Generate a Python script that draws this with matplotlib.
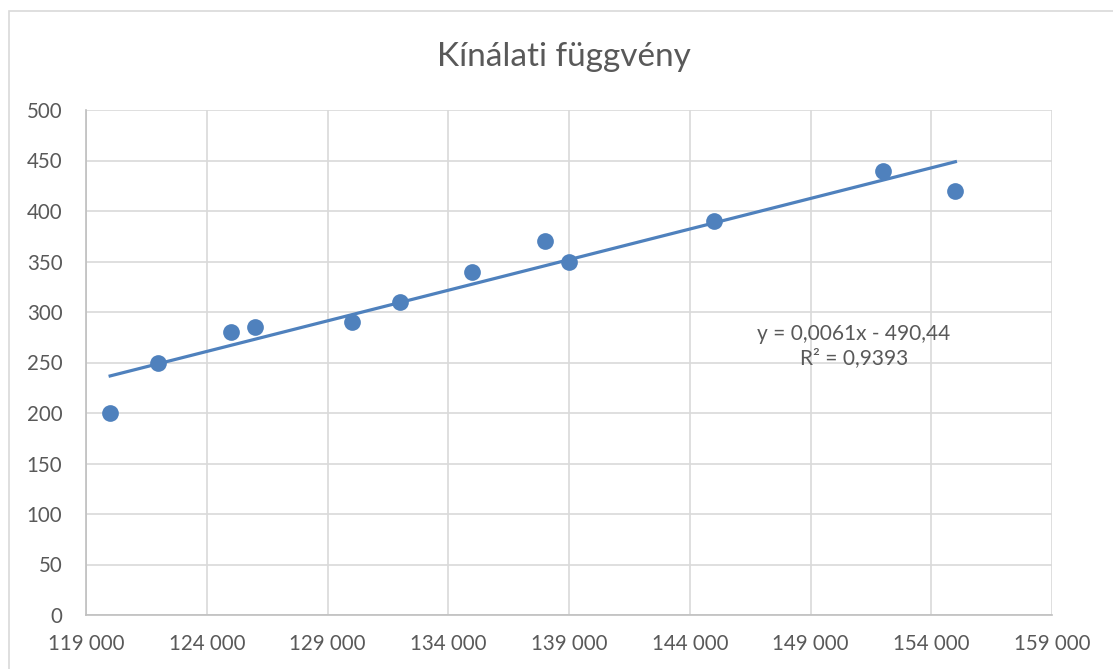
import numpy as np
import matplotlib
matplotlib.use("Agg")
import matplotlib.pyplot as plt
from matplotlib.patches import Rectangle
from matplotlib.ticker import FuncFormatter

plt.rcParams['font.family'] = ['Lato', 'DejaVu Sans']

# data
income = [120000, 122000, 125000, 126000, 130000, 132000,
          135000, 138000, 139000, 145000, 152000, 155000]
supply = [200, 250, 280, 285, 290, 310, 340, 370, 350, 390, 440, 420]

title = "Kínálati függvény"
eq_text = "y = 0,0061x - 490,44\nR² = 0,9393"

blue = '#4f81bd'
text_col = '#595959'
grid_col = '#d9d9d9'

fig = plt.figure(figsize=(11.13, 6.69), dpi=100)
fig.patches.append(Rectangle((9 / 1113, -0.05), 1.1, (669 - 11) / 669 + 0.05,
                             transform=fig.transFigure, fill=False,
                             edgecolor='#d9d9d9', linewidth=1.2))

ax = fig.add_axes([86 / 1113, 54 / 669, 966 / 1113, 505 / 669])

# linear trendline
slope, icpt = np.polyfit(income, supply, 1)
xs = np.array([min(income), max(income)])
ax.plot(xs, slope * xs + icpt, color=blue, linewidth=2.3, zorder=2)
ax.scatter(income, supply, s=145, color=blue, zorder=3, linewidths=0)

ax.set_xlim(119000, 159000)
ax.set_ylim(0, 500)
ax.set_xticks(np.arange(119000, 159001, 5000))
ax.set_yticks(np.arange(0, 501, 50))
ax.xaxis.set_major_formatter(FuncFormatter(lambda v, p: f"{int(v):,}".replace(",", " ")))

ax.grid(True, color=grid_col, linewidth=1.2)
ax.set_axisbelow(True)
for side in ['top', 'right']:
    ax.spines[side].set_visible(False)
for side in ['left', 'bottom']:
    ax.spines[side].set_color('#bfbfbf')
    ax.spines[side].set_linewidth(1.2)
ax.tick_params(axis='both', length=0, labelsize=14.8, labelcolor=text_col)
ax.tick_params(axis='x', pad=14)
ax.tick_params(axis='y', pad=17)

ax.text(150800, 266, eq_text, ha='center', va='center', fontsize=15,
        color=text_col, linespacing=1.25)

fig.text(564 / 1113, 1 - 57 / 669, title, ha='center', va='center',
         fontsize=24, color=text_col)

fig.savefig('out.png', dpi=100)
